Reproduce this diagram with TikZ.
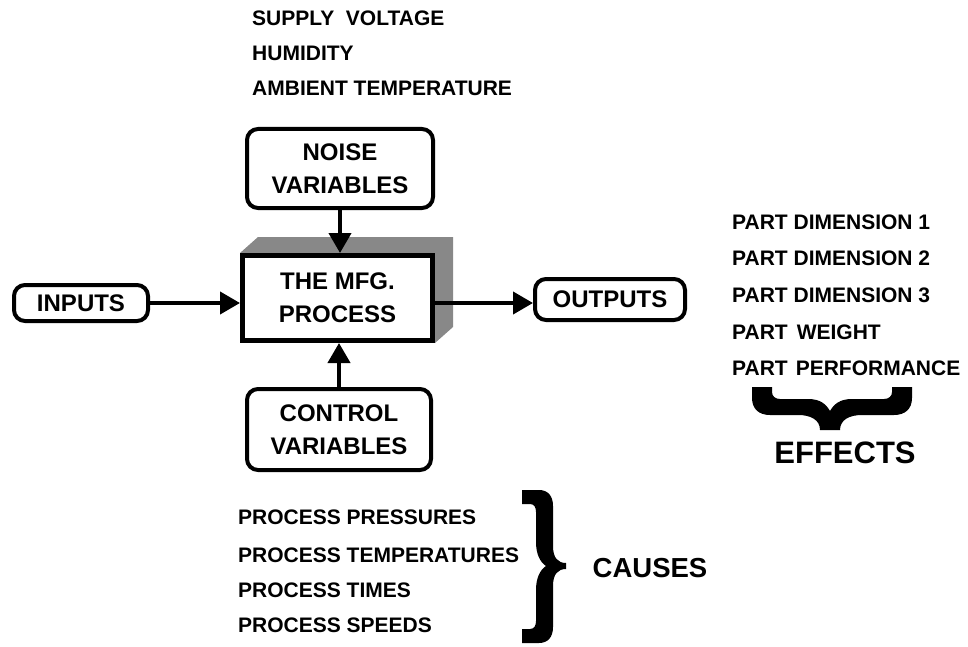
\documentclass[tikz,border=0pt]{standalone}
\usepackage{fontspec}
\setmainfont{Liberation Sans}
\usetikzlibrary{arrows.meta,calc,backgrounds}

\definecolor{shadegray}{RGB}{136,136,136}

\tikzset{
  box/.style={draw, line width=4pt, rounded corners=11pt, align=center,
    inner sep=0pt, fill=white, font=\bfseries\fontsize{24}{33}\selectfont},
  procbox/.style={box, line width=5pt, rounded corners=0pt},
  item/.style={anchor=west, inner sep=0pt, font=\bfseries\fontsize{21}{25}\selectfont},
  label/.style={inner sep=0pt, font=\bfseries},
  flow/.style={line width=4pt, -{Triangle[length=20pt,width=22pt]}},
}

\begin{document}
\begin{tikzpicture}[x=1pt,y=-1pt]
\useasboundingbox (0,0) rectangle (968,647);

% main blocks
\node[box, minimum width=186pt, minimum height=79pt] (noise) at (340,168.5) {NOISE\\VARIABLES};
\node[procbox, minimum width=190pt, minimum height=85pt] (proc) at (337.5,298) {THE MFG.\\PROCESS};
\node[box, minimum width=184pt, minimum height=81pt] (ctrl) at (339,429.5) {CONTROL\\VARIABLES};
\node[box, minimum width=134pt, minimum height=36pt] (inputs) at (81,303) {INPUTS};
\node[box, minimum width=150pt, minimum height=41pt] (outputs) at (610,299.5) {OUTPUTS};

% raised top and side faces of the process block
\begin{scope}[on background layer]
  \fill[shadegray] (proc.north west) -- ++(18,-16)
    -- ($(proc.north east)+(18,-16)$) -- ($(proc.south east)+(18,-16)$)
    -- (proc.south east) -- cycle;
\end{scope}

% connectors
\draw[flow] (noise.south) -- (noise.south |- proc.north);
\draw[flow] (ctrl.north) -- (ctrl.north |- proc.south);
\draw[flow] (inputs.east) -- (inputs.east -| proc.west);
\draw[flow] (proc.east |- inputs.east) -- (outputs.west |- inputs.east);

% noise factors
\node[item] (n1) at (252,18) {SUPPLY\ \ VOLTAGE};
\node[item] (n2) at (252,53) {HUMIDITY};
\node[item] (n3) at (252,88) {AMBIENT TEMPERATURE};

% responses
\node[item] (r1) at (732,222) {PART DIMENSION 1};
\node[item] (r2) at (732,258) {PART DIMENSION 2};
\node[item] (r3) at (732,295) {PART DIMENSION 3};
\node[item] (r4) at (732,332) {PART\hspace{9pt}WEIGHT};
\node[item] (r5) at (732,368) {PART\hspace{8pt}PERFORMANCE};

% controllable factors
\node[item] (c1) at (238,517) {PROCESS PRESSURES};
\node[item] (c2) at (238,555) {PROCESS TEMPERATURES};
\node[item] (c3) at (238,590) {PROCESS TIMES};
\node[item] (c4) at (238,625) {PROCESS SPEEDS};

% brace under the responses
\fill (752,387) -- (772,387) -- (772,392)
  .. controls (772,396) and (775,399) .. (780,399) -- (808,399)
  .. controls (820,399) and (826,404) .. (830,411)
  .. controls (834,404) and (840,399) .. (852,399) -- (884,399)
  .. controls (889,399) and (892,396) .. (892,392) -- (892,387) -- (912,387) -- (912,398)
  .. controls (912,409) and (905,415) .. (894,415) -- (862,415)
  .. controls (849,415) and (840,420) .. (840,430) -- (820,430)
  .. controls (820,420) and (811,415) .. (798,415) -- (770,415)
  .. controls (759,415) and (752,409) .. (752,398) -- cycle;
\node[label, font=\bfseries\fontsize{31}{36}\selectfont] (effects) at (845,453) {EFFECTS};

% brace beside the controllable factors
\fill (522,490) -- (539,490)
  .. controls (548,490) and (553,496) .. (553,506) -- (553,546)
  .. controls (553,558) and (558,563) .. (566,563) -- (566,569)
  .. controls (558,569) and (553,574) .. (553,586) -- (553,627)
  .. controls (553,637) and (548,643) .. (539,643) -- (522,643) -- (522,629) -- (530,629)
  .. controls (534,629) and (536,626) .. (536,621) -- (536,590)
  .. controls (536,578) and (540,570) .. (546,566)
  .. controls (540,562) and (536,554) .. (536,542) -- (536,512)
  .. controls (536,507) and (534,504) .. (530,504) -- (522,504) -- cycle;
\node[label, font=\bfseries\fontsize{27.5}{32}\selectfont] (causes) at (650,568) {CAUSES};

\end{tikzpicture}
\end{document}
